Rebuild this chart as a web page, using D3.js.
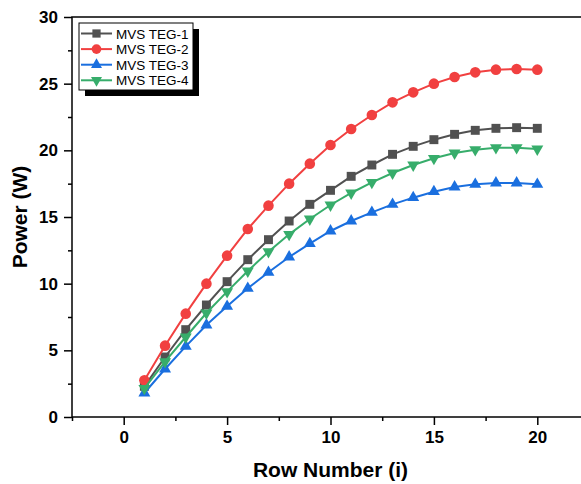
<!DOCTYPE html>
<html>
<head>
<meta charset="utf-8">
<script src="https://cdn.jsdelivr.net/npm/d3@7"></script>
<style>
  html, body { margin: 0; padding: 0; background: #fff; }
  svg { display: block; font-family: "Liberation Sans", Arial, sans-serif; }
</style>
</head>
<body>
<svg id="chart" width="581" height="484"></svg>
<script>
// Row numbers along the x axis
const rows = d3.range(1, 21);

// Power output (W) per row for each configuration
const teg1 = [2.3, 4.5, 6.55, 8.4, 10.15, 11.8, 13.3, 14.7, 15.95, 17.0, 18.05, 18.9, 19.7, 20.3, 20.8, 21.2, 21.5, 21.65, 21.7, 21.65];
const teg2 = [2.75, 5.35, 7.75, 10.0, 12.1, 14.1, 15.85, 17.5, 19.0, 20.4, 21.6, 22.65, 23.6, 24.35, 25.0, 25.5, 25.85, 26.05, 26.1, 26.05];
const teg3 = [1.8, 3.6, 5.3, 6.9, 8.3, 9.65, 10.85, 12.0, 13.0, 13.95, 14.7, 15.35, 15.95, 16.45, 16.9, 17.25, 17.45, 17.55, 17.55, 17.45];
const teg4 = [2.15, 4.15, 6.0, 7.8, 9.4, 10.95, 12.4, 13.7, 14.85, 15.9, 16.8, 17.6, 18.3, 18.9, 19.4, 19.8, 20.05, 20.2, 20.2, 20.1];

const seriesNames = ["MVS TEG-1", "MVS TEG-2", "MVS TEG-3", "MVS TEG-4"];
const seriesValues = [teg1, teg2, teg3, teg4];

const xTicks = [0, 5, 10, 15, 20];
const yTicks = [0, 5, 10, 15, 20, 25, 30];
const xTitle = "Row Number (i)";
const yTitle = "Power (W)";

// Styling per series
const colors = ["#515151", "#F14040", "#1A6FDF", "#37AD6B"];
const shapes = [
  { type: d3.symbolSquare, size: 80, rot: 0 },
  { type: d3.symbolCircle, size: 88, rot: 0 },
  { type: d3.symbolTriangle, size: 62, rot: 0 },
  { type: d3.symbolTriangle, size: 62, rot: 180 }
];

const svg = d3.select("#chart");
const plot = { left: 72, right: 589, top: 17, bottom: 417 };

const x = d3.scaleLinear().domain([-2.5, 22.5]).range([plot.left, plot.right]);
const y = d3.scaleLinear().domain([0, 30]).range([plot.bottom, plot.top]);

// Frame (top and right edges, no ticks)
svg.append("rect")
  .attr("x", plot.left).attr("y", plot.top)
  .attr("width", plot.right - plot.left).attr("height", plot.bottom - plot.top)
  .attr("fill", "none").attr("stroke", "#000").attr("stroke-width", 1.5);

// Bottom axis: major + minor ticks
const gx = svg.append("g").attr("transform", `translate(0,${plot.bottom})`);
gx.call(d3.axisBottom(x).tickValues([-2.5, 2.5, 7.5, 12.5, 17.5, 22.5]).tickSize(4).tickFormat(""));
gx.call(g => g.select(".domain").remove());
const gxMaj = svg.append("g").attr("transform", `translate(0,${plot.bottom})`)
  .call(d3.axisBottom(x).tickValues(xTicks).tickSize(8).tickPadding(6).tickFormat(d3.format("d")));
gxMaj.select(".domain").remove();
gxMaj.selectAll("text").attr("font-size", 17).attr("font-weight", "bold").attr("fill", "#000")
  .attr("font-family", "'Liberation Sans', Arial, sans-serif");

// Left axis: major + minor ticks
const gyMin = svg.append("g").attr("transform", `translate(${plot.left},0)`)
  .call(d3.axisLeft(y).tickValues(d3.range(2.5, 30, 5)).tickSize(4).tickFormat(""));
gyMin.select(".domain").remove();
const gy = svg.append("g").attr("transform", `translate(${plot.left},0)`)
  .call(d3.axisLeft(y).tickValues(yTicks).tickSize(8).tickPadding(6).tickFormat(d3.format("d")));
gy.select(".domain").remove();
gy.selectAll("text").attr("font-size", 17).attr("font-weight", "bold").attr("fill", "#000")
  .attr("font-family", "'Liberation Sans', Arial, sans-serif");

svg.selectAll(".tick line").attr("stroke", "#000").attr("stroke-width", 1.5);

// Axis titles
svg.append("text")
  .attr("x", (plot.left + plot.right) / 2).attr("y", 477)
  .attr("text-anchor", "middle").attr("font-size", 21).attr("font-weight", "bold")
  .text(xTitle);
svg.append("text")
  .attr("transform", `translate(27,${(plot.top + plot.bottom) / 2}) rotate(-90)`)
  .attr("text-anchor", "middle").attr("font-size", 21).attr("font-weight", "bold")
  .text(yTitle);

// Series lines and markers
const line = d3.line().x((d, i) => x(rows[i])).y(d => y(d));
seriesValues.forEach((vals, s) => {
  const g = svg.append("g");
  g.append("path").datum(vals)
    .attr("d", line).attr("fill", "none")
    .attr("stroke", colors[s]).attr("stroke-width", 2);
  const sym = d3.symbol().type(shapes[s].type).size(shapes[s].size);
  g.selectAll("path.pt").data(vals).join("path")
    .attr("class", "pt")
    .attr("d", sym)
    .attr("transform", (d, i) => `translate(${x(rows[i])},${y(d)}) rotate(${shapes[s].rot})`)
    .attr("fill", colors[s]);
});

// Legend with drop shadow
const lg = { x: 79, y: 23, w: 114, h: 67, off: 6 };
svg.append("rect")
  .attr("x", lg.x + lg.off).attr("y", lg.y + lg.off)
  .attr("width", lg.w).attr("height", lg.h).attr("fill", "#000");
svg.append("rect")
  .attr("x", lg.x).attr("y", lg.y)
  .attr("width", lg.w).attr("height", lg.h)
  .attr("fill", "#fff").attr("stroke", "#000").attr("stroke-width", 1);

seriesNames.forEach((name, s) => {
  const cy = 33.5 + s * 15.6;
  svg.append("line")
    .attr("x1", 81).attr("x2", 112).attr("y1", cy).attr("y2", cy)
    .attr("stroke", colors[s]).attr("stroke-width", 2);
  svg.append("path")
    .attr("d", d3.symbol().type(shapes[s].type).size(shapes[s].size * 0.85)())
    .attr("transform", `translate(96.5,${cy}) rotate(${shapes[s].rot})`)
    .attr("fill", colors[s]);
  svg.append("text")
    .attr("x", 116).attr("y", cy + 5)
    .attr("font-size", 13.5).attr("fill", "#000")
    .text(name);
});
</script>
</body>
</html>
